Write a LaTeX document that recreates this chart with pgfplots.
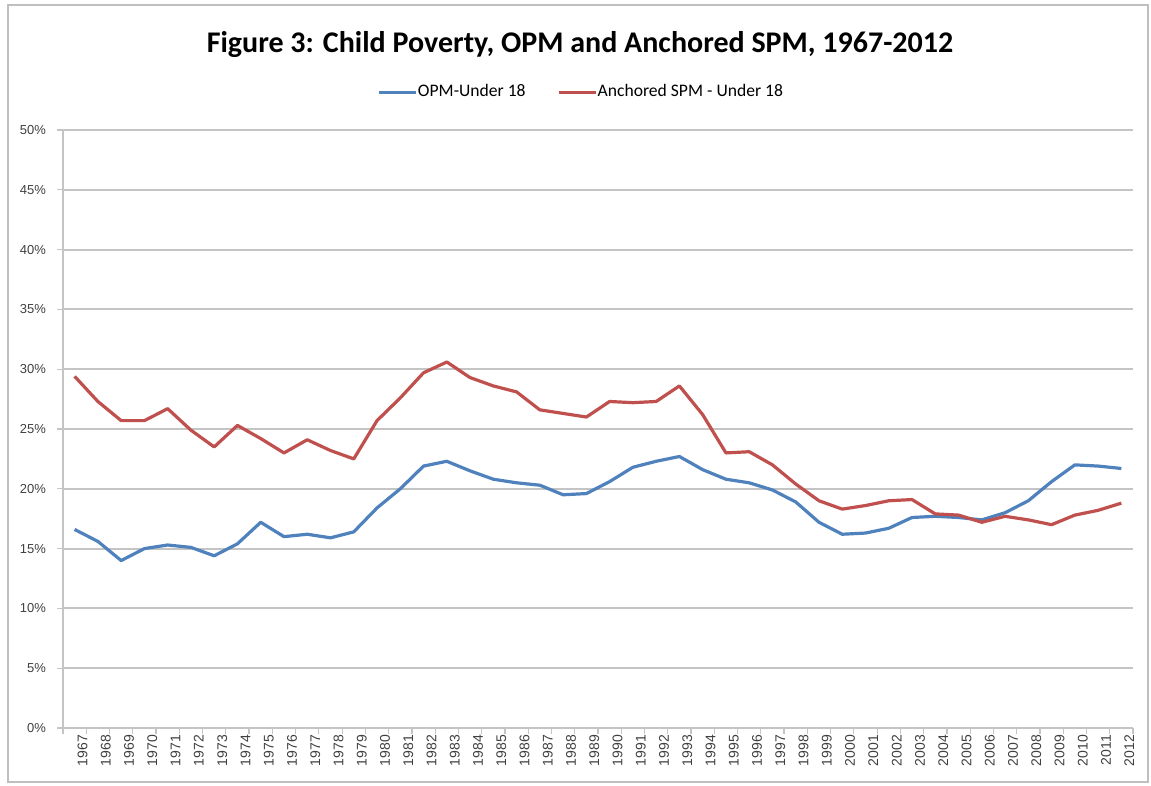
\documentclass[border=0pt]{standalone}
\usepackage{fontspec}
\setmainfont{Liberation Sans}
\newfontfamily\carlito{Carlito}
\usepackage{pgfplots}
\pgfplotsset{compat=1.18}
\usepackage{pgfplotstable}
\definecolor{opmblue}{HTML}{4F81BD}
\definecolor{spmred}{HTML}{C0504D}
\definecolor{gridgray}{HTML}{C4C4C4}
\definecolor{labgray}{HTML}{404040}

\pgfplotstableread{
year opm spm
1967 16.6 29.4
1968 15.6 27.3
1969 14.0 25.7
1970 15.0 25.7
1971 15.3 26.7
1972 15.1 24.9
1973 14.4 23.5
1974 15.4 25.3
1975 17.2 24.2
1976 16.0 23.0
1977 16.2 24.1
1978 15.9 23.2
1979 16.4 22.5
1980 18.4 25.7
1981 20.0 27.6
1982 21.9 29.7
1983 22.3 30.6
1984 21.5 29.3
1985 20.8 28.6
1986 20.5 28.1
1987 20.3 26.6
1988 19.5 26.3
1989 19.6 26.0
1990 20.6 27.3
1991 21.8 27.2
1992 22.3 27.3
1993 22.7 28.6
1994 21.6 26.2
1995 20.8 23.0
1996 20.5 23.1
1997 19.9 22.0
1998 18.9 20.4
1999 17.2 19.0
2000 16.2 18.3
2001 16.3 18.6
2002 16.7 19.0
2003 17.6 19.1
2004 17.7 17.9
2005 17.6 17.8
2006 17.4 17.2
2007 18.0 17.7
2008 19.0 17.4
2009 20.6 17.0
2010 22.0 17.8
2011 21.9 18.2
2012 21.7 18.8
}\data

\begin{document}
\begin{tikzpicture}
\useasboundingbox (0pt,0pt) rectangle (575.5pt,393pt);
\draw[gray!50, line width=1pt] (4pt,2pt) rectangle (574pt,390.5pt);
\node[font=\carlito\bfseries\fontsize{15}{17}\selectfont] at (290pt,370.5pt) {Figure 3: Child Poverty, OPM and Anchored SPM, 1967-2012};
\begin{axis}[
  at={(31.5pt,29pt)}, anchor=south west,
  scale only axis, width=535pt, height=299pt,
  xmin=1966.5, xmax=2012.5, ymin=0, ymax=50,
  xtick={1967,...,2012},
  ytick={0,5,...,50},
  minor xtick={1966.5,1967.5,...,2012.5},
  minor ytick={0,5,...,50},
  major tick length=0pt,
  minor tick length=3pt,
  tick align=outside,
  minor tick style={gridgray, line width=0.6pt},
  axis lines*=left,
  axis line style={gridgray, line width=0.8pt},
  ymajorgrids,
  grid style={gridgray, line width=1pt},
  /pgf/number format/assume math mode=true,
  /pgf/number format/1000 sep={},
  yticklabel={\pgfmathprintnumber{\tick}\%},
  x tick label style={rotate=90, anchor=east, font=\fontsize{7}{8}\selectfont, text=labgray, yshift=-4pt},
  y tick label style={font=\fontsize{6.5}{7}\selectfont, text=labgray, xshift=-5pt},
  legend columns=2,
  legend style={at={(0.4855,1.0635)}, anchor=center, draw=none, fill=none,
    font=\carlito\fontsize{8.8}{10}\selectfont, column sep=0pt,
    /tikz/every odd column/.append style={column sep=-2pt},
    /tikz/every even column/.append style={column sep=14pt}},
  legend image code/.code={\draw[#1, line width=1.5pt] (0pt,0pt) -- (18.5pt,0pt);},
]
\addplot[opmblue, line width=1.6pt, line join=round] table[x=year, y=opm] {\data};
\addlegendentry{OPM-Under 18}
\addplot[spmred, line width=1.6pt, line join=round] table[x=year, y=spm] {\data};
\addlegendentry{Anchored SPM - Under 18}
\end{axis}
\end{tikzpicture}
\end{document}
